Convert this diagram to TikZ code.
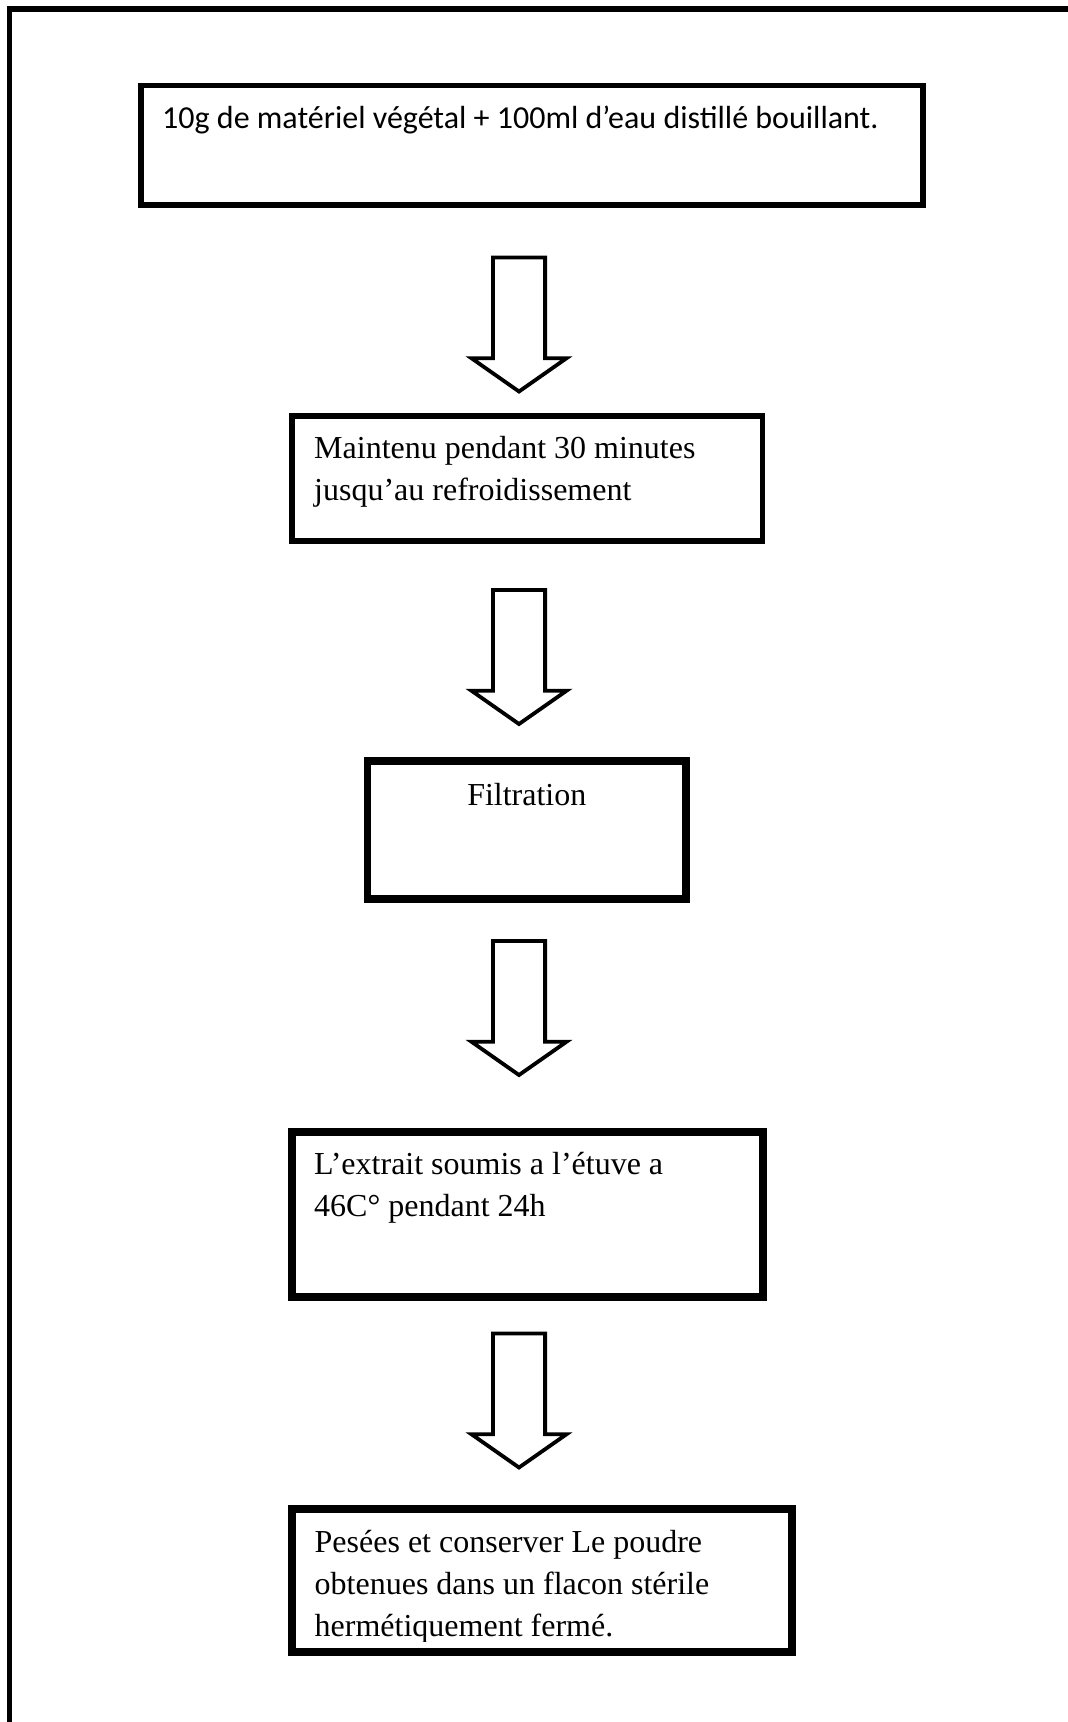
\documentclass[tikz,border=0pt]{standalone}
\usepackage{fontspec}
\setmainfont{Liberation Serif}
\newfontfamily\calibri{Carlito}
\usetikzlibrary{calc}
\usetikzlibrary{shapes.arrows}

\tikzset{
  boite/.style={draw, line width=#1, inner sep=0pt, outer sep=0pt, anchor=north west},
  texte/.style={inner sep=0pt, anchor=north west, align=left, font=\fontsize{32}{42}\selectfont},
  fleche/.style={single arrow, draw, line width=3.8pt, rotate=-90, minimum height=134pt,
    inner xsep=0pt, inner ysep=24.2pt, outer sep=0pt, anchor=tail,
    single arrow head extend=21.5pt, single arrow tip angle=110}
}

\begin{document}
\begin{tikzpicture}[x=1pt, y=-1pt]
  \useasboundingbox (0,0) rectangle (1068,1722);

  % cadre
  \draw [line width=5.5pt] (9.5,1722) -- (9.5,9) -- (1068,9);

  % etapes
  \node [boite=5.7pt, minimum width=782pt, minimum height=119.5pt] (etape1) at (140.7,85.5) {};
  \node [boite=5.4pt, minimum width=470.7pt, minimum height=125pt] (etape2) at (292,416) {};
  \node [boite=7.8pt, minimum width=318.2pt, minimum height=138.3pt] (etape3) at (367.5,761) {};
  \node [boite=8pt, minimum width=470.9pt, minimum height=165.4pt] (etape4) at (291.6,1131.6) {};
  \node [boite=8pt, minimum width=500.3pt, minimum height=143pt] (etape5) at (291.7,1509) {};

  \node [texte] (txt1) at (162,98.6) {\calibri\strut 10g de matériel végétal + 100ml d’eau distillé bouillant.};
  \node [texte] (txt2) at (314,428.5) {\strut Maintenu pendant 30 minutes\\jusqu’au refroidissement};
  \node [texte, anchor=north] (txt3) at (526.8,776) {\strut Filtration};
  \node [texte] (txt4) at (314,1144.6) {\strut L’extrait soumis a l’étuve a\\46C° pendant 24h};
  \begin{scope}
    \clip (etape5.north west) rectangle ($(etape5.south east)+(0,-11)$);
    \node [texte] (txt5) at (314.5,1522.6) {\strut Pesées et conserver Le poudre\\obtenues dans un flacon stérile\\hermétiquement fermé.};
  \end{scope}

  % fleches
  \node [fleche] (fl1) at (519,257.5) {};
  \node [fleche] (fl2) at (519,590) {};
  \node [fleche] (fl3) at (519,941) {};
  \node [fleche] (fl4) at (519,1333.5) {};
\end{tikzpicture}
\end{document}
